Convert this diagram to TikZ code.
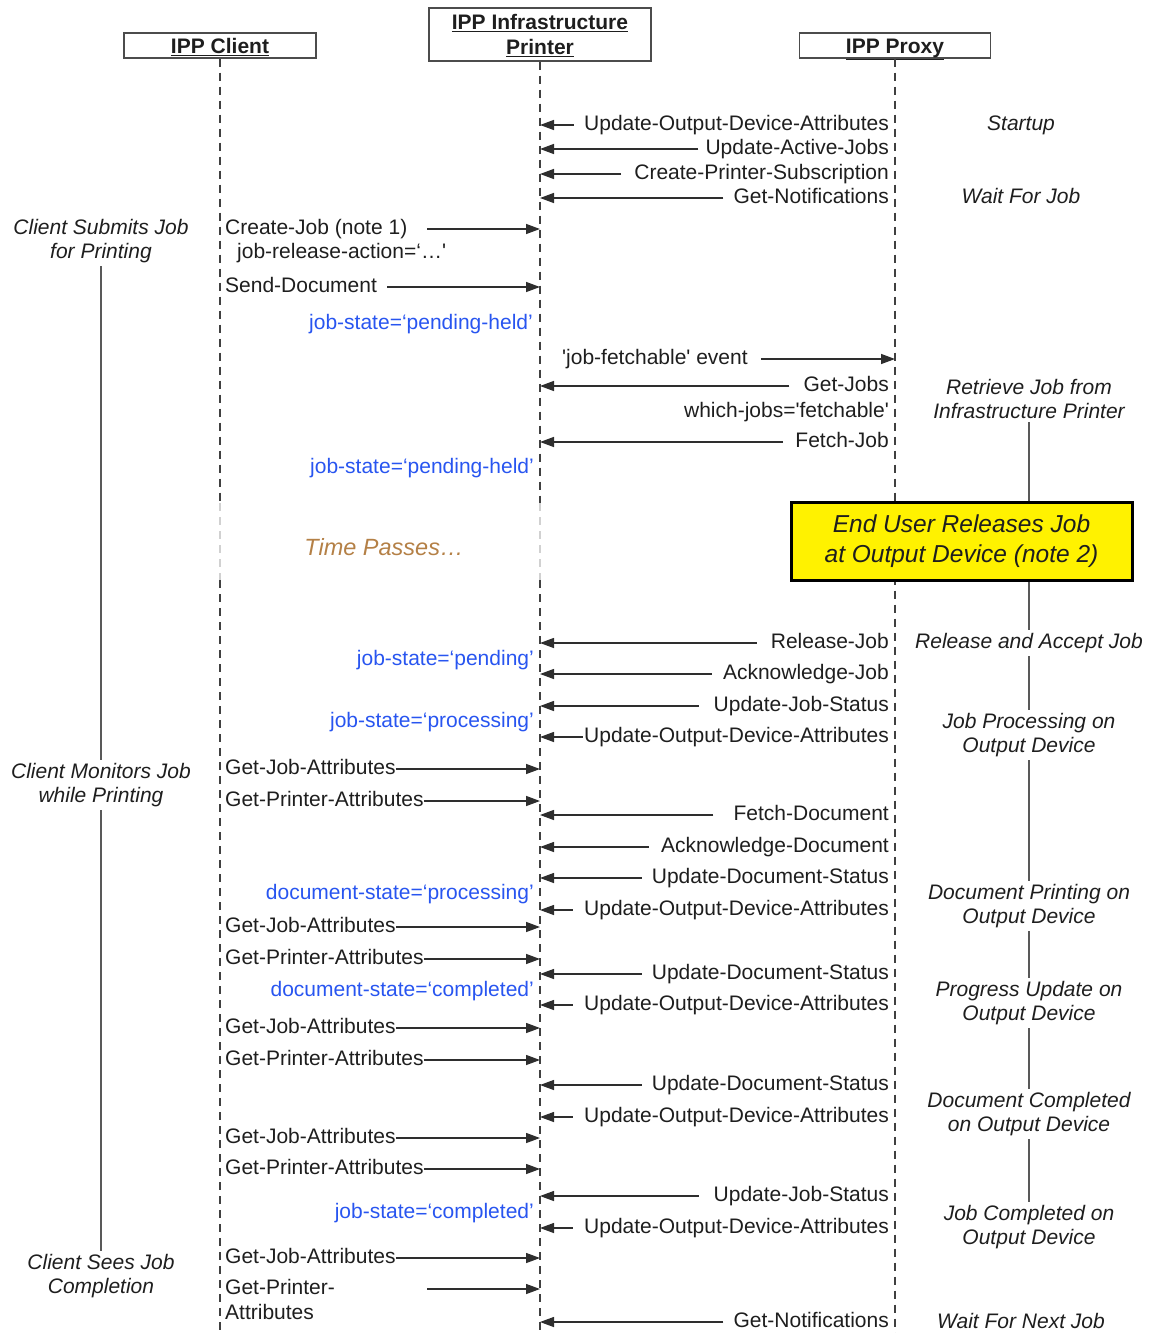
\documentclass[tikz,border=0pt]{standalone}
\usepackage{fontspec}
\setmainfont{Liberation Sans}
\usetikzlibrary{arrows.meta}
\definecolor{stateblue}{RGB}{40,85,240}
\definecolor{timebrown}{RGB}{180,128,70}
\definecolor{ink}{RGB}{30,30,30}
\begin{document}
\fontsize{21}{24.5}\selectfont
\begin{tikzpicture}[x=1pt,y=-1pt,
  font=\fontsize{21}{24.5}\selectfont, text=ink,
  actor/.style={draw=black!70, line width=1.4pt, font=\fontsize{21}{25}\selectfont\bfseries, align=center, inner sep=0pt},
  actor1/.style={actor, text height=20pt, text depth=4pt},
  life/.style={draw=black!75, line width=1.2pt, dash pattern=on 8pt off 6pt},
  fade/.style={draw=black!18, line width=1.2pt, dash pattern=on 8pt off 6pt},
  msg/.style={draw=black!82, line width=1.4pt, -{Triangle[length=14pt,width=10pt]}},
  lbl/.style={inner sep=0pt},
  lblR/.style={lbl, anchor=mid east},
  lblL/.style={lbl, anchor=mid west},
  jstate/.style={lbl, anchor=mid east, text=stateblue},
  phase/.style={font=\fontsize{21}{24.5}\selectfont\itshape, align=center, inner sep=3pt},
  link/.style={draw=black!65, line width=1.3pt}
]
\useasboundingbox (0,0) rectangle (1149,1333);

% actors
\node[actor1, minimum width=192pt, minimum height=25pt] (client) at (220,45.5) {\underline{IPP Client}};
\node[actor, text depth=0pt, minimum width=222pt, minimum height=53pt] (printer) at (540,34.5) {\underline{IPP Infrastructure}\\\underline{Printer}};
\node[actor1, minimum width=191pt, minimum height=25pt] (proxy) at (895,45.5) {\underline{IPP Proxy}};

% lifelines
\coordinate (cA) at (220,503); \coordinate (cB) at (220,580); \coordinate (cEnd) at (220,1333);
\coordinate (pA) at (540,503); \coordinate (pB) at (540,580); \coordinate (pEnd) at (540,1333);
\coordinate (xEnd) at (895,1333);
\draw[life] (client.south) -- (cA);
\draw[fade] (cA) -- (cB);
\draw[life] (cB) -- (cEnd);
\draw[life] (printer.south) -- (pA);
\draw[fade] (pA) -- (pB);
\draw[life] (pB) -- (pEnd);
\draw[life] (proxy.south) -- (xEnd);

% startup
\node[lblR] (m1) at (889,125) {Update-Output-Device-Attributes};
\draw[msg] ([xshift=-10pt]m1.mid west) -- (m1.mid west -| printer.south);
\node[lblR] (m2) at (889,149) {Update-Active-Jobs};
\draw[msg] ([xshift=-7pt]m2.mid west) -- (m2.mid west -| printer.south);
\node[lblR] (m3) at (889,174) {Create-Printer-Subscription};
\draw[msg] ([xshift=-13pt]m3.mid west) -- (m3.mid west -| printer.south);
\node[lblR] (m4) at (889,198) {Get-Notifications};
\draw[msg] ([xshift=-10pt]m4.mid west) -- (m4.mid west -| printer.south);

% submit
\node[lblL] (m5) at (225,229) {Create-Job (note 1)};
\draw[msg] ([xshift=20pt]m5.mid east) -- (m5.mid east -| printer.south);
\node[lblL] (m5b) at (237,253) {job-release-action=‘…\textquotesingle};
\node[lblL] (m6) at (225,287) {Send-Document};
\draw[msg] ([xshift=10pt]m6.mid east) -- (m6.mid east -| printer.south);
\node[jstate] (s1) at (533,324) {job-state=‘pending-held’};

% fetch
\node[lblL] (m7) at (562,359) {\textquotesingle job-fetchable\textquotesingle{} event};
\draw[msg] ([xshift=13pt]m7.mid east) -- (m7.mid east -| proxy.south);
\node[lblR] (m8) at (889,386) {Get-Jobs};
\draw[msg] ([xshift=-14pt]m8.mid west) -- (m8.mid west -| printer.south);
\node[lblR] (m8b) at (889,412) {which-jobs=\textquotesingle fetchable\textquotesingle};
\node[lblR] (m9) at (889,442) {Fetch-Job};
\draw[msg] ([xshift=-12pt]m9.mid west) -- (m9.mid west -| printer.south);
\node[jstate] (s2) at (534,468) {job-state=‘pending-held’};

% time passes
\node[font=\fontsize{23.5}{28}\selectfont\itshape, text=timebrown] (tp) at (384,547) {Time Passes…};
\node[draw=black, line width=3pt, fill=yellow, minimum width=341pt, minimum height=78pt, align=center,
      font=\fontsize{24.5}{30}\selectfont\itshape] (eu) at (961.5,541) {End User Releases Job\\at Output Device (note 2)};

% release
\node[lblR] (m10) at (889,643) {Release-Job};
\draw[msg] ([xshift=-14pt]m10.mid west) -- (m10.mid west -| printer.south);
\node[jstate] (s3) at (534,660) {job-state=‘pending’};
\node[lblR] (m11) at (889,674) {Acknowledge-Job};
\draw[msg] ([xshift=-11pt]m11.mid west) -- (m11.mid west -| printer.south);
\node[lblR] (m12) at (889,706) {Update-Job-Status};
\draw[msg] ([xshift=-15pt]m12.mid west) -- (m12.mid west -| printer.south);
\node[jstate] (s4) at (534,722) {job-state=‘processing’};
\node[lblR] (m13) at (889,737) {Update-Output-Device-Attributes};
\draw[msg] ([xshift=-1pt]m13.mid west) -- (m13.mid west -| printer.south);
\node[lblL] (m14) at (225,769) {Get-Job-Attributes};
\draw[msg] (m14.mid east) -- (m14.mid east -| printer.south);
\node[lblL] (m15) at (225,801) {Get-Printer-Attributes};
\draw[msg] (m15.mid east) -- (m15.mid east -| printer.south);

% document printing
\node[lblR] (m16) at (889,815) {Fetch-Document};
\draw[msg] ([xshift=-20pt]m16.mid west) -- (m16.mid west -| printer.south);
\node[lblR] (m17) at (889,847) {Acknowledge-Document};
\draw[msg] ([xshift=-12pt]m17.mid west) -- (m17.mid west -| printer.south);
\node[lblR] (m18) at (889,878) {Update-Document-Status};
\draw[msg] ([xshift=-10pt]m18.mid west) -- (m18.mid west -| printer.south);
\node[jstate] (s5) at (534,894) {document-state=‘processing’};
\node[lblR] (m19) at (889,910) {Update-Output-Device-Attributes};
\draw[msg] ([xshift=-11pt]m19.mid west) -- (m19.mid west -| printer.south);
\node[lblL] (m20) at (225,927) {Get-Job-Attributes};
\draw[msg] (m20.mid east) -- (m20.mid east -| printer.south);
\node[lblL] (m21) at (225,959) {Get-Printer-Attributes};
\draw[msg] (m21.mid east) -- (m21.mid east -| printer.south);

% progress
\node[lblR] (m22) at (889,974) {Update-Document-Status};
\draw[msg] ([xshift=-10pt]m22.mid west) -- (m22.mid west -| printer.south);
\node[jstate] (s6) at (534,991) {document-state=‘completed’};
\node[lblR] (m23) at (889,1005) {Update-Output-Device-Attributes};
\draw[msg] ([xshift=-11pt]m23.mid west) -- (m23.mid west -| printer.south);
\node[lblL] (m24) at (225,1028) {Get-Job-Attributes};
\draw[msg] (m24.mid east) -- (m24.mid east -| printer.south);
\node[lblL] (m25) at (225,1060) {Get-Printer-Attributes};
\draw[msg] (m25.mid east) -- (m25.mid east -| printer.south);

% document completed
\node[lblR] (m26) at (889,1085) {Update-Document-Status};
\draw[msg] ([xshift=-10pt]m26.mid west) -- (m26.mid west -| printer.south);
\node[lblR] (m27) at (889,1117) {Update-Output-Device-Attributes};
\draw[msg] ([xshift=-11pt]m27.mid west) -- (m27.mid west -| printer.south);
\node[lblL] (m28) at (225,1138) {Get-Job-Attributes};
\draw[msg] (m28.mid east) -- (m28.mid east -| printer.south);
\node[lblL] (m29) at (225,1169) {Get-Printer-Attributes};
\draw[msg] (m29.mid east) -- (m29.mid east -| printer.south);

% job completed
\node[lblR] (m30) at (889,1196) {Update-Job-Status};
\draw[msg] ([xshift=-15pt]m30.mid west) -- (m30.mid west -| printer.south);
\node[jstate] (s7) at (534,1213) {job-state=‘completed’};
\node[lblR] (m31) at (889,1228) {Update-Output-Device-Attributes};
\draw[msg] ([xshift=-11pt]m31.mid west) -- (m31.mid west -| printer.south);
\node[lblL] (m32) at (225,1258) {Get-Job-Attributes};
\draw[msg] (m32.mid east) -- (m32.mid east -| printer.south);
\node[lblL] (m33) at (225,1289) {Get-Printer-};
\node[lblL] (m33b) at (225,1314) {Attributes};
\draw[msg] ([xshift=92pt]m33.mid east) -- (m33.mid east -| printer.south);
\node[lblR] (m34) at (889,1322) {Get-Notifications};
\draw[msg] ([xshift=-10pt]m34.mid west) -- (m34.mid west -| printer.south);

% right phase annotations
\node[phase, anchor=mid] (a1) at (1021,125) {Startup};
\node[phase, anchor=mid] (a2) at (1021,198) {Wait For Job};
\node[phase] (a3) at (1029,399) {Retrieve Job from\\Infrastructure Printer};
\node[phase, anchor=mid] (a4) at (1029,643) {Release and Accept Job};
\node[phase] (a5) at (1029,735) {Job Processing on\\Output Device};
\node[phase] (a6) at (1029,906) {Document Printing on\\Output Device};
\node[phase] (a7) at (1029,1003) {Progress Update on\\Output Device};
\node[phase] (a8) at (1029,1114) {Document Completed\\on Output Device};
\node[phase] (a9) at (1029,1227) {Job Completed on\\Output Device};
\node[phase, anchor=mid] (a10) at (1021,1323) {Wait For Next Job};
\draw[link] (a3.south) -- (a3.south |- eu.north);
\draw[link] (eu.south -| a4.north) -- (a4.north);
\draw[link] (a4.south) -- (a5.north);
\draw[link] (a5.south) -- (a6.north);
\draw[link] (a6.south) -- (a7.north);
\draw[link] (a7.south) -- (a8.north);
\draw[link] (a8.south) -- (a9.north);

% left client annotations
\node[phase] (l1) at (101,241) {Client Submits Job\\for Printing};
\node[phase] (l2) at (101,785) {Client Monitors Job\\while Printing};
\node[phase] (l3) at (101,1276) {Client Sees Job\\Completion};
\draw[link] (l1.south) -- (l2.north);
\draw[link] (l2.south) -- (l3.north);
\end{tikzpicture}
\end{document}
